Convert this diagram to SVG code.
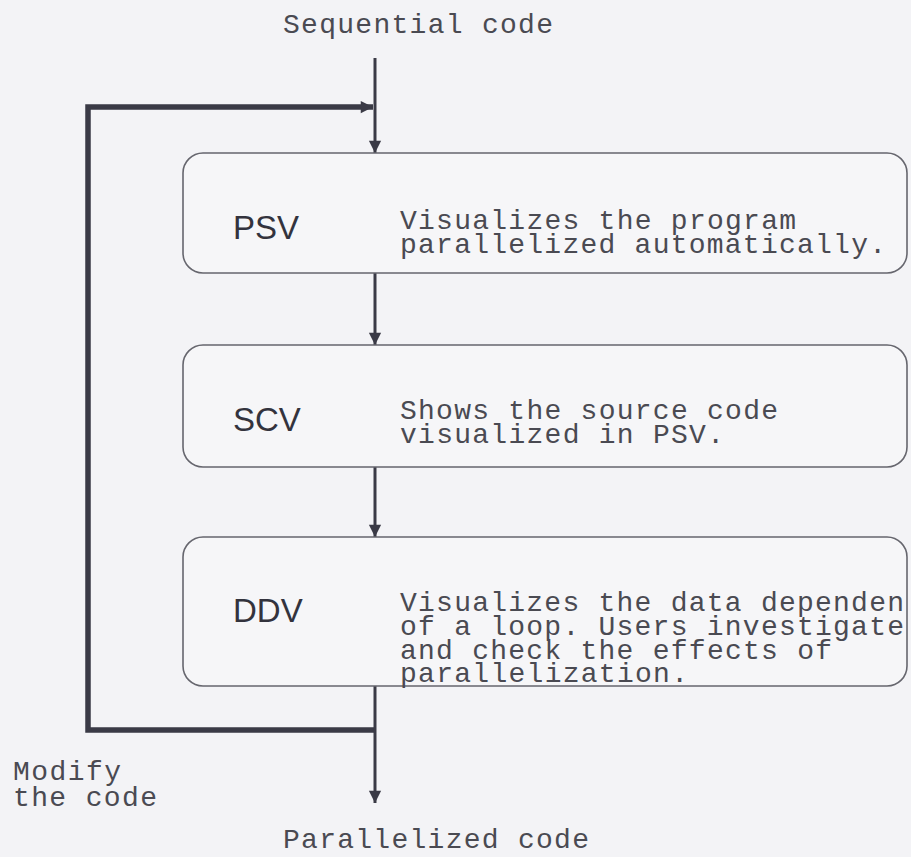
<svg xmlns="http://www.w3.org/2000/svg" width="911" height="857" viewBox="0 0 911 857">
<style>
.bg{fill:#f3f3f6}
.box{fill:#f6f6f8;stroke:#66666e;stroke-width:1.6}
.mono{font-family:"Liberation Mono","Courier New",monospace;font-size:28px;fill:#4a4a52}
.lab{font-family:"Liberation Sans",Arial,sans-serif;font-size:33px;fill:#33333d}
.ln{stroke:#3a3a46;stroke-width:3;fill:none}
.thick{stroke:#3a3a46;stroke-width:5.5;fill:none}
.ah{fill:#3a3a46}
</style>
<defs>
<marker id="arr" viewBox="0 0 14 16" refX="14" refY="8" markerWidth="16" markerHeight="14" markerUnits="userSpaceOnUse" orient="auto">
<path d="M0,1 L14,8 L0,15 Z" class="ah"/>
</marker>
</defs>
<rect class="bg" x="0" y="0" width="911" height="857"/>
<text class="mono" x="283" y="33" textLength="270">Sequential code</text>
<text class="mono" x="283" y="848" textLength="306">Parallelized code</text>
<text class="mono" x="13" y="780" textLength="108">Modify</text>
<text class="mono" x="13" y="806" textLength="144">the code</text>
<g id="connectors">
<path class="thick" d="M375,730 L88,730 L88,107 L373,107" marker-end="url(#arr)"/>
<path class="ln" d="M375,58 L375,153" marker-end="url(#arr)"/>
<path class="ln" d="M375,273 L375,345" marker-end="url(#arr)"/>
<path class="ln" d="M375,467 L375,537" marker-end="url(#arr)"/>
<path class="ln" d="M375,686 L375,803" marker-end="url(#arr)"/>
</g>
<g id="psv">
<rect class="box" x="183" y="153" width="724" height="120" rx="20"/>
<text class="lab" x="233" y="239">PSV</text>
<text class="mono" x="400" y="229" textLength="396">Visualizes the program</text>
<text class="mono" x="400" y="253" textLength="486">parallelized automatically.</text>
</g>
<g id="scv">
<rect class="box" x="183" y="345" width="724" height="122" rx="20"/>
<text class="lab" x="233" y="431">SCV</text>
<text class="mono" x="400" y="419" textLength="378">Shows the source code</text>
<text class="mono" x="400" y="443" textLength="324">visualized in PSV.</text>
</g>
<g id="ddv">
<rect class="box" x="183" y="537" width="724" height="149" rx="20"/>
<text class="lab" x="233" y="622">DDV</text>
<text class="mono" x="400" y="611" textLength="504">Visualizes the data dependen</text>
<text class="mono" x="400" y="635" textLength="504">of a loop. Users investigate</text>
<text class="mono" x="400" y="659" textLength="432">and check the effects of</text>
<text class="mono" x="400" y="682" textLength="288">parallelization.</text>
</g>
</svg>
